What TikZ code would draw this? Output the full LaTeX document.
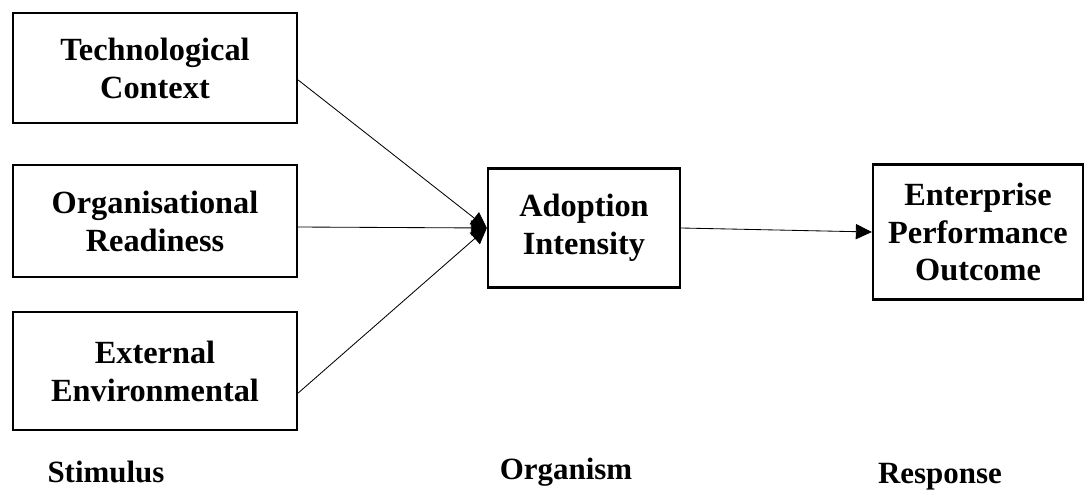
\documentclass[tikz,border=0pt]{standalone}
\usepackage{fontspec}
\setmainfont{Liberation Serif}
\usetikzlibrary{arrows.meta}

\begin{document}
\begin{tikzpicture}[x=0.025cm,y=-0.025cm,
    box/.style = {rectangle,draw=black,line width=1.6pt,align=center,inner sep=0pt,
                  font=\fontsize{23}{27}\selectfont\bfseries},
    link/.style = {draw=black,line width=0.6pt,-{Triangle[length=0.4cm,width=0.38cm]}},
    stage/.style = {font=\fontsize{22}{22}\selectfont\bfseries}]
\useasboundingbox (0,0) rectangle (1091,499);
\node[box,minimum width=7.1cm,minimum height=2.75cm] (tech) at (155,68) {Technological\\Context};
\node[box,minimum width=7.1cm,minimum height=2.8cm] (org) at (155,221) {Organisational\\Readiness};
\node[box,minimum width=7.1cm,minimum height=2.95cm] (ext) at (155,371) {External\\Environmental};
\node[box,minimum width=4.8cm,minimum height=2.975cm] (adopt) at (584,228) {Adoption\\Intensity};
\node[box,minimum width=5.25cm,minimum height=3.375cm] (perf) at (978,232) {Enterprise\\Performance\\Outcome};
\draw[link] ([yshift=-0.3cm]tech.east) -- (adopt.west);
\draw[link] ([yshift=-0.15cm]org.east) -- (adopt.west);
\draw[link] ([yshift=-0.55cm]ext.east) -- (adopt.west);
\draw[link] (adopt.east) -- (perf.west);
\node[stage] (stim) at (106,472) {Stimulus};
\node[stage] (organism) at (566,472) {Organism};
\node[stage] (resp) at (940,477) {Response};
\end{tikzpicture}
\end{document}
